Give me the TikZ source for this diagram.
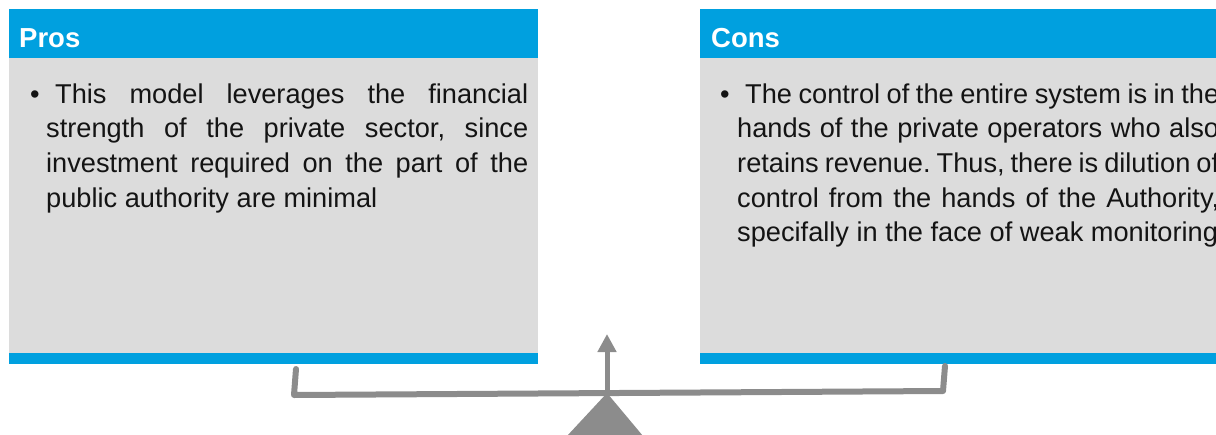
\documentclass[tikz,border=0pt]{standalone}
\usepackage{fontspec}
\setmainfont{Liberation Sans}
\usetikzlibrary{arrows.meta, positioning}
\definecolor{headblue}{RGB}{0, 160, 223}
\definecolor{panelgray}{RGB}{220, 220, 220}
\definecolor{scalegray}{RGB}{140, 140, 140}
\definecolor{bodytext}{RGB}{20, 20, 20}

\begin{document}
\frenchspacing
\begin{tikzpicture}[x=1pt, y=-1pt,
  headbar/.style={fill=headblue, anchor=north west, inner sep=0pt,
    minimum width=529pt, minimum height=49pt},
  panel/.style={fill=panelgray, anchor=north west, inner sep=0pt,
    minimum width=529pt, minimum height=295pt},
  footbar/.style={fill=headblue, anchor=north west, inner sep=0pt,
    minimum width=529pt, minimum height=11pt},
  headtxt/.style={anchor=base west, inner sep=0pt, text=white,
    font=\fontsize{27.5}{33}\selectfont\bfseries},
  bodytxt/.style={anchor=north west, inner sep=0pt, text=bodytext,
    text width=482pt, align=justify, font=\fontsize{27.2}{34.7}\selectfont},
  dot/.style={anchor=base west, inner sep=0pt, text=bodytext,
    font=\fontsize{27.2}{34.7}\selectfont},
  beam/.style={draw=scalegray, line width=6pt, line cap=round, line join=round},
  pointer/.style={draw=scalegray, line width=5pt, -{Triangle[width=18pt, length=18pt]}}
]
\clip (0,0) rectangle (1216,434);

% Pros panel
\node[headbar] (pros_head) at (9,9) {};
\node[panel] (pros_body) at (9,58) {};
\node[footbar] (pros_foot) at (9,353) {};
\node[headtxt] (pros_lbl) at (19,47) {Pros};
\node[dot] (pros_dot) at (30,103) {\textbullet};
\node[bodytxt] (pros_txt) at (46,78.7) {\strut\hspace*{9pt}This model leverages the financial\linebreak
  strength of the private sector, since\linebreak
  investment required on the part of the\linebreak public authority are minimal};

% Cons panel
\node[headbar] (cons_head) at (700,9) {};
\node[panel] (cons_body) at (700,58) {};
\node[footbar] (cons_foot) at (700,353) {};
\node[headtxt] (cons_lbl) at (711,47) {Cons};
\node[dot] (cons_dot) at (720,103) {\textbullet};
\node[bodytxt] (cons_txt) at (737,78.7) {\strut\hspace*{8pt}The control of the entire system is in the\linebreak
  hands of the private operators who also\linebreak
  retains revenue. Thus, there is dilution of\linebreak control from the hands of the Authority,\linebreak
  specifally in the face of weak monitoring};

% Balance
\coordinate (hook_l) at (296,369);
\coordinate (beam_l) at (294,395);
\coordinate (beam_r) at (943,391);
\coordinate (hook_r) at (945,366);
\coordinate (pivot) at (607,393);
\coordinate (tip) at (607,334);
\draw[beam] (hook_l) -- (beam_l) -- (beam_r) -- (hook_r);
\draw[pointer] (pivot) -- (tip);
\fill[scalegray] (pivot) -- (567,436) -- (643,436) -- cycle;

\end{tikzpicture}
\end{document}
